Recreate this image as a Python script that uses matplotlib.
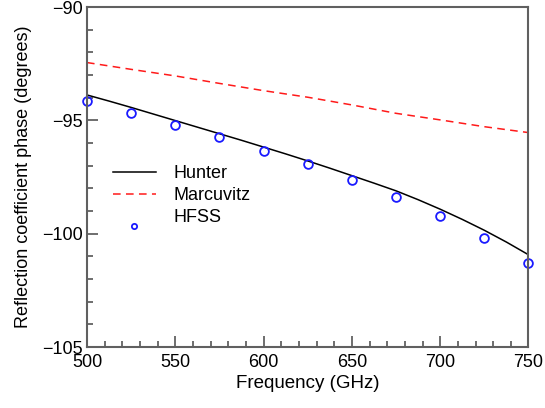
import matplotlib
matplotlib.use("Agg")
import numpy as np
import matplotlib.pyplot as plt
from matplotlib.ticker import MultipleLocator
from matplotlib.legend_handler import HandlerLine2D

plt.rcParams['font.family'] = ['Liberation Sans', 'DejaVu Sans']

# Reflection coefficient phase vs frequency
freq_model = [500, 512.5, 525, 537.5, 550, 562.5, 575, 587.5, 600, 612.5, 625,
              637.5, 650, 662.5, 675, 687.5, 700, 712.5, 725, 737.5, 750]
hunter = [-93.88, -94.15, -94.43, -94.72, -95.01, -95.30, -95.59, -95.88, -96.18,
          -96.48, -96.79, -97.11, -97.44, -97.77, -98.11, -98.50, -98.92, -99.37,
          -99.85, -100.37, -100.93]

freq = [500, 525, 550, 575, 600, 625, 650, 675, 700, 725, 750]
marcuvitz = [-92.45, -92.75, -93.04, -93.37, -93.69, -93.98, -94.32, -94.69, -94.98, -95.28, -95.54]
hfss = [-94.15, -94.68, -95.20, -95.73, -96.35, -96.93, -97.63, -98.38, -99.22, -100.19, -101.29]


class LoweredMarker(HandlerLine2D):
    """Legend handler that draws the marker a little below the text row."""
    def create_artists(self, legend, orig_handle, xdescent, ydescent,
                       width, height, fontsize, trans):
        artists = super().create_artists(legend, orig_handle, xdescent, ydescent,
                                         width, height, fontsize, trans)
        for a in artists:
            a.set_ydata(np.asarray(a.get_ydata()) - 0.8 * height)
        return artists


fig = plt.figure(figsize=(5.45, 4.08), dpi=100)
ax = fig.add_axes([0.1596, 0.1495, 0.8101, 0.8333])

ax.plot(freq_model, hunter, color='black', lw=1.1, label='Hunter')
ax.plot(freq, marcuvitz, color='#ff1a1a', lw=1.1, ls=(0, (5, 3.5)), label='Marcuvitz')
pts, = ax.plot(freq, hfss, ls='none', marker='o', ms=6.3, mfc='none', mec='#1a1aff',
               mew=1.3, label='HFSS', clip_on=False)

ax.set_xlim(500, 750)
ax.set_ylim(-105, -90)
ax.xaxis.set_major_locator(MultipleLocator(50))
ax.xaxis.set_minor_locator(MultipleLocator(10))
ax.yaxis.set_major_locator(MultipleLocator(5))
ax.yaxis.set_minor_locator(MultipleLocator(1))
ax.tick_params(which='both', direction='in', top=False, right=False,
               labelsize=13, color='#555555', width=1.2)
ax.tick_params(which='major', length=8)
ax.tick_params(which='minor', length=4)
ax.tick_params(axis='x', which='major', pad=5)
ax.tick_params(axis='y', which='major', pad=3)
for s in ax.spines.values():
    s.set_color('#606060')
    s.set_linewidth(1.5)

ax.set_xlabel('Frequency (GHz)', fontsize=13.5, labelpad=3)
ax.set_ylabel('Reflection coefficient phase (degrees)', fontsize=13, labelpad=7)

ax.legend(loc='upper left', bbox_to_anchor=(0.021, 0.582), frameon=False,
          fontsize=13, handlelength=2.4, handletextpad=1.0, labelspacing=0.28,
          markerscale=0.6, handler_map={pts: LoweredMarker()})

fig.savefig('out.png', dpi=100)
